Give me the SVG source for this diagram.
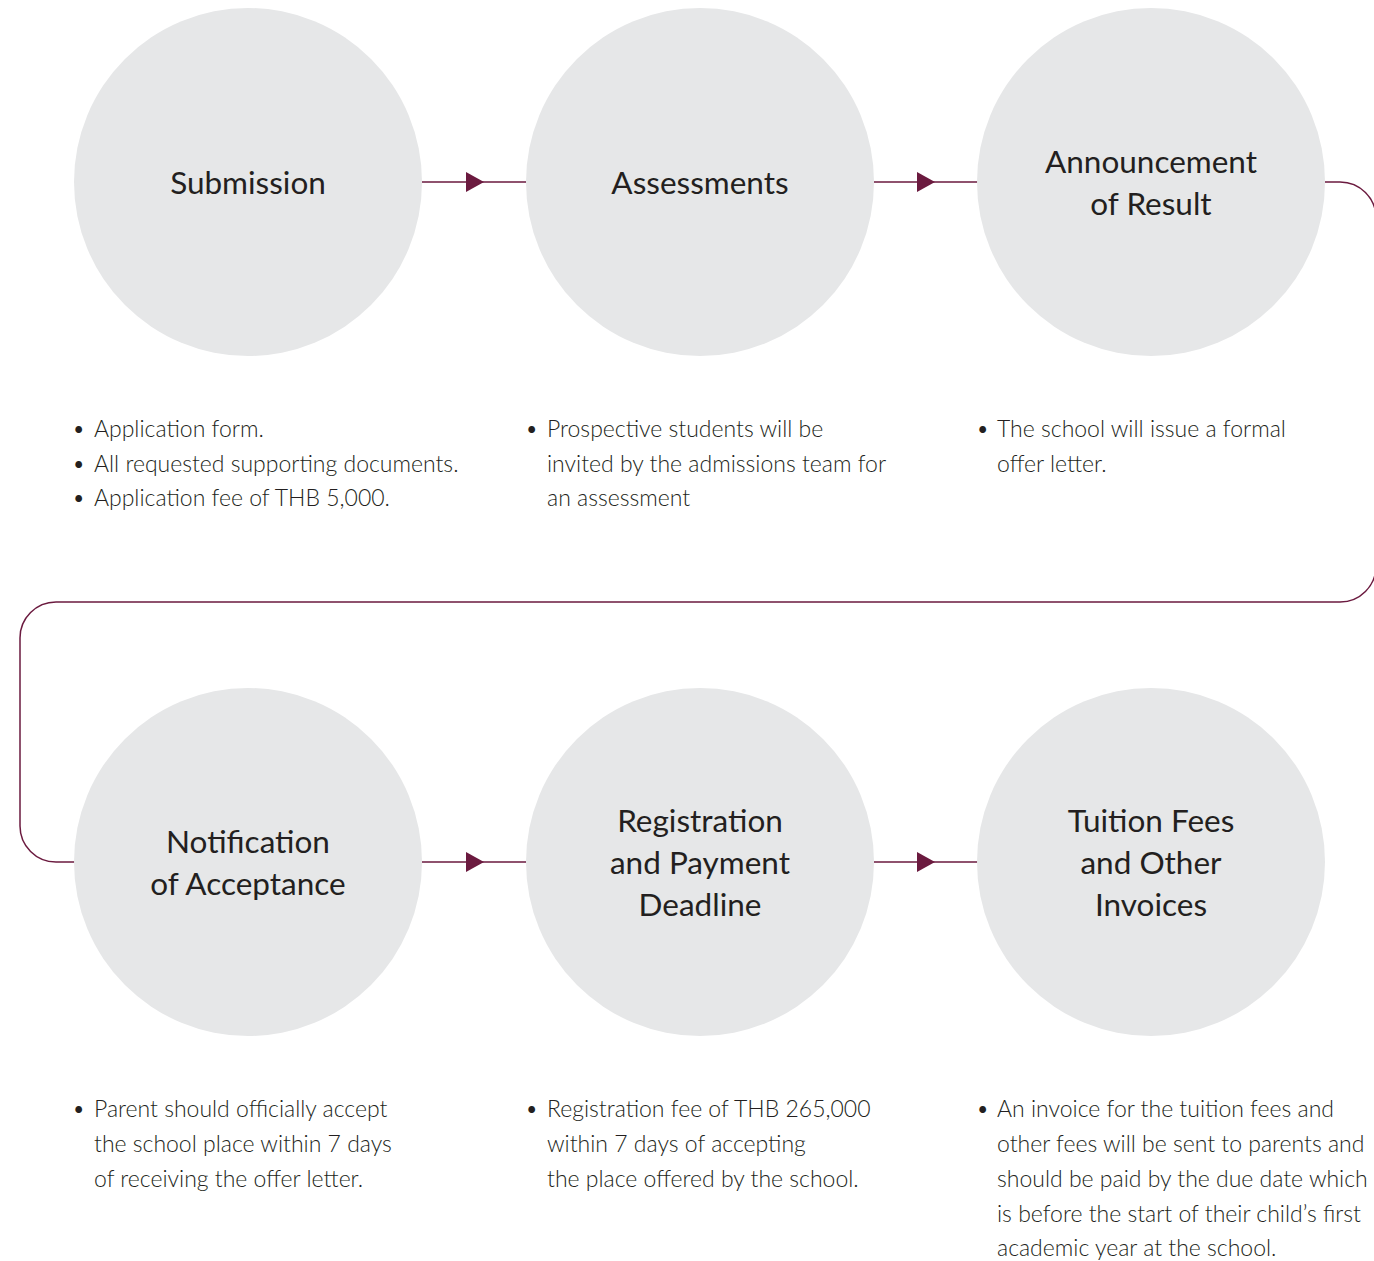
<svg xmlns="http://www.w3.org/2000/svg" width="1374" height="1261" viewBox="0 0 1374 1261">
<defs>
<style>
.c{fill:#e6e7e8}
.t{font-family:Lato,"Open Sans","Liberation Sans",sans-serif;font-size:31.5px;fill:#231f20;text-anchor:middle}
.b{font-family:Lato,"Open Sans","Liberation Sans",sans-serif;font-weight:300;font-size:23px;fill:#231f20}
.l{fill:none;stroke:#6b1a3f;stroke-width:1.5}
.a{fill:#6b1a3f}
</style>
</defs>
<rect width="1374" height="1261" fill="#ffffff"/>
<g id="connectors">
<path class="l" d="M422 182H526M874 182H978M422 862H526M874 862H978"/>
<polygon class="a" points="466,172 484,182 466,192"/>
<polygon class="a" points="917,172 935,182 917,192"/>
<polygon class="a" points="466,852 484,862 466,872"/>
<polygon class="a" points="917,852 935,862 917,872"/>
<path class="l" d="M1325 182H1340A36 36 0 0 1 1376 218V566A36 36 0 0 1 1340 602H56A36 36 0 0 0 20 638V826A36 36 0 0 0 56 862H75"/>
</g>
<g id="n1"><circle class="c" cx="248" cy="182" r="174"/><text class="t" x="248" y="194">Submission</text></g>
<g id="n2"><circle class="c" cx="700" cy="182" r="174"/><text class="t" x="700" y="194">Assessments</text></g>
<g id="n3"><circle class="c" cx="1151" cy="182" r="174"/><text class="t" x="1151" y="173">Announcement</text><text class="t" x="1151" y="215">of Result</text></g>
<g id="n4"><circle class="c" cx="248" cy="862" r="174"/><text class="t" x="248" y="853">Notification</text><text class="t" x="248" y="895">of Acceptance</text></g>
<g id="n5"><circle class="c" cx="700" cy="862" r="174"/><text class="t" x="700" y="832">Registration</text><text class="t" x="700" y="874">and Payment</text><text class="t" x="700" y="916">Deadline</text></g>
<g id="n6"><circle class="c" cx="1151" cy="862" r="174"/><text class="t" x="1151" y="832">Tuition Fees</text><text class="t" x="1151" y="874">and Other</text><text class="t" x="1151" y="916">Invoices</text></g>
<g id="d1" class="b">
<text x="72" y="437">•</text><text x="94" y="437">Application form.</text>
<text x="72" y="472">•</text><text x="94" y="472">All requested supporting documents.</text>
<text x="72" y="506">•</text><text x="94" y="506">Application fee of THB 5,000.</text>
</g>
<g id="d2" class="b">
<text x="525" y="437">•</text><text x="547" y="437">Prospective students will be</text>
<text x="547" y="472">invited by the admissions team for</text>
<text x="547" y="506">an assessment</text>
</g>
<g id="d3" class="b">
<text x="976" y="437">•</text><text x="997" y="437">The school will issue a formal</text>
<text x="997" y="472">offer letter.</text>
</g>
<g id="d4" class="b">
<text x="72" y="1117">•</text><text x="94" y="1117">Parent should officially accept</text>
<text x="94" y="1152">the school place within 7 days</text>
<text x="94" y="1187">of receiving the offer letter.</text>
</g>
<g id="d5" class="b">
<text x="525" y="1117">•</text><text x="547" y="1117">Registration fee of THB 265,000</text>
<text x="547" y="1152">within 7 days of accepting</text>
<text x="547" y="1187">the place offered by the school.</text>
</g>
<g id="d6" class="b">
<text x="976" y="1117">•</text><text x="997" y="1117">An invoice for the tuition fees and</text>
<text x="997" y="1152">other fees will be sent to parents and</text>
<text x="997" y="1187">should be paid by the due date which</text>
<text x="997" y="1222">is before the start of their child’s first</text>
<text x="997" y="1256">academic year at the school.</text>
</g>
</svg>
